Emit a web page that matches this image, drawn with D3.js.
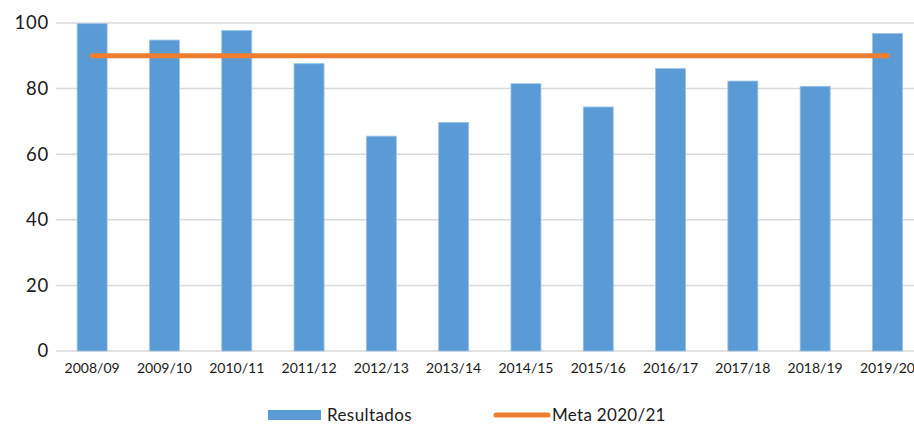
<!DOCTYPE html>
<html>
<head>
<meta charset="utf-8">
<script src="https://cdn.jsdelivr.net/npm/d3@7"></script>
<style>
  body { margin: 0; background: #fff; }
  svg { display: block; font-family: Lato, "Open Sans", sans-serif; }
</style>
</head>
<body>
<div id="chart"></div>
<script>
var years = ["2008/09","2009/10","2010/11","2011/12","2012/13","2013/14","2014/15","2015/16","2016/17","2017/18","2018/19","2019/20"];
var resultados = [99.8, 94.8, 97.7, 87.6, 65.5, 69.7, 81.5, 74.4, 86.1, 82.3, 80.7, 96.8];
var meta = [90, 90, 90, 90, 90, 90, 90, 90, 90, 90, 90, 90];
var yTicks = [0, 20, 40, 60, 80, 100];

var width = 914, height = 425;
var margin = {top: 23, left: 56, bottom: 74};

var svg = d3.select("#chart").append("svg")
    .attr("width", width)
    .attr("height", height);

var x = d3.scaleBand()
    .domain(years)
    .range([margin.left, margin.left + 12 * 72.3])
    .paddingInner(0.585)
    .paddingOuter(0.2925);

var y = d3.scaleLinear()
    .domain([0, 100])
    .range([height - margin.bottom, margin.top]);

// grid
svg.append("g")
  .selectAll("line")
  .data(yTicks)
  .enter().append("line")
    .attr("x1", margin.left)
    .attr("x2", width)
    .attr("y1", function(d){ return y(d); })
    .attr("y2", function(d){ return y(d); })
    .attr("stroke", "#d9d9d9")
    .attr("stroke-width", 1.5);

// y labels
svg.append("g")
  .selectAll("text")
  .data(yTicks)
  .enter().append("text")
    .attr("x", 49)
    .attr("y", function(d){ return y(d); })
    .attr("dy", "0.35em")
    .attr("text-anchor", "end")
    .style("font-size", "18.5px")
    .style("letter-spacing", "0.8px")
    .attr("fill", "#1a1a1a")
    .text(function(d){ return d; });

// bars
svg.append("g")
  .selectAll("rect")
  .data(resultados)
  .enter().append("rect")
    .attr("x", function(d, i){ return x(years[i]); })
    .attr("y", function(d){ return y(d); })
    .attr("width", x.bandwidth())
    .attr("height", function(d){ return y(0) - y(d); })
    .attr("fill", "#5b9bd5")
    .attr("stroke", "#9cc3e8")
    .attr("stroke-width", 0.8);

// x labels
svg.append("g")
  .selectAll("text")
  .data(years)
  .enter().append("text")
    .attr("x", function(d){ return x(d) + x.bandwidth() / 2; })
    .attr("y", y(0) + 17)
    .attr("dy", "0.35em")
    .attr("text-anchor", "middle")
    .style("font-size", "14px")
    .attr("fill", "#1a1a1a")
    .text(function(d){ return d; });

// meta line
var line = d3.line()
    .x(function(d, i){ return x(years[i]) + x.bandwidth() / 2; })
    .y(function(d){ return y(d); });

svg.append("path")
    .datum(meta)
    .attr("d", line)
    .attr("fill", "none")
    .attr("stroke", "#ed7d31")
    .attr("stroke-width", 5)
    .attr("stroke-linecap", "round");

// legend
var lg = svg.append("g");
lg.append("rect")
    .attr("x", 268).attr("y", 410)
    .attr("width", 53).attr("height", 10)
    .attr("fill", "#5b9bd5");
lg.append("text")
    .attr("x", 327).attr("y", 415).attr("dy", "0.35em")
    .style("font-size", "17px")
    .style("letter-spacing", "0.4px")
    .attr("fill", "#1a1a1a")
    .text("Resultados");
lg.append("line")
    .attr("x1", 496).attr("x2", 548)
    .attr("y1", 415).attr("y2", 415)
    .attr("stroke", "#ed7d31")
    .attr("stroke-width", 5)
    .attr("stroke-linecap", "round");
lg.append("text")
    .attr("x", 552).attr("y", 415).attr("dy", "0.35em")
    .style("font-size", "17px")
    .style("letter-spacing", "0.3px")
    .attr("fill", "#1a1a1a")
    .text("Meta 2020/21");
</script>
</body>
</html>
